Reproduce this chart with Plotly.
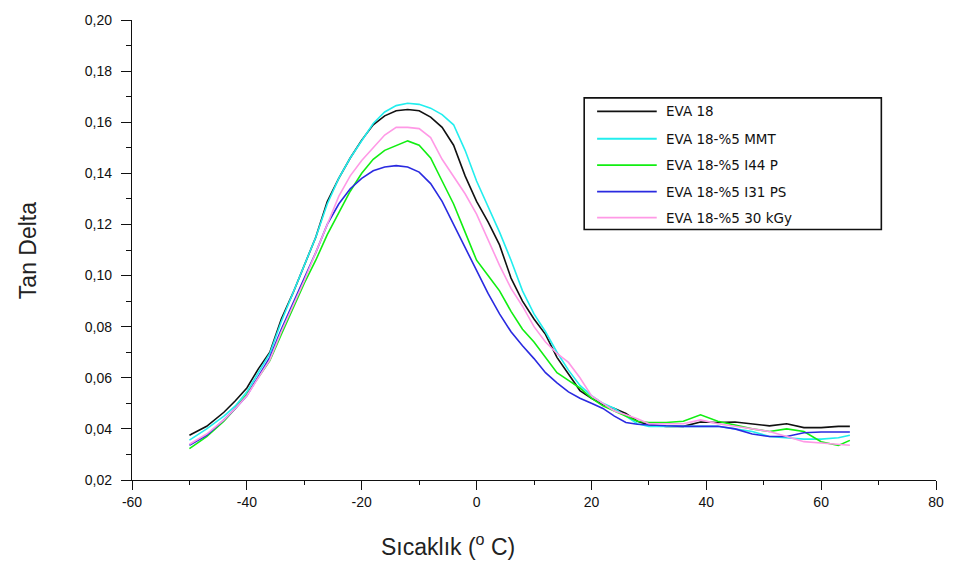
import plotly.graph_objects as go

# Temperature grid (°C) shared by every sample
temperature = [-50, -47, -44, -42, -40, -38, -36, -34, -32, -30, -28, -26, -24, -22,
               -20, -18, -16, -14, -12, -10, -8, -6, -4, -2, 0, 2, 4, 6, 8, 10, 12,
               14, 16, 18, 20, 22, 24, 26, 28, 30, 33, 36, 39, 42, 45, 48, 51, 54,
               57, 60, 63, 65]

eva18 = [0.0375, 0.041, 0.0465, 0.051, 0.056, 0.0635, 0.070, 0.083, 0.093, 0.104,
         0.115, 0.129, 0.138, 0.146, 0.153, 0.159, 0.1625, 0.1645, 0.165, 0.1645,
         0.162, 0.158, 0.151, 0.139, 0.129, 0.121, 0.112, 0.099, 0.090, 0.083,
         0.077, 0.068, 0.0615, 0.055, 0.052, 0.0495, 0.048, 0.046, 0.043, 0.0415,
         0.041, 0.041, 0.0427, 0.0425, 0.0427, 0.042, 0.0412, 0.042, 0.0405,
         0.0405, 0.041, 0.041]

eva18_mmt = [0.0356, 0.040, 0.045, 0.049, 0.0545, 0.062, 0.0695, 0.082, 0.093, 0.104,
             0.115, 0.128, 0.138, 0.146, 0.153, 0.1595, 0.164, 0.1665, 0.1674, 0.167,
             0.1655, 0.163, 0.159, 0.149, 0.137, 0.127, 0.117, 0.106, 0.094, 0.085,
             0.078, 0.070, 0.063, 0.057, 0.053, 0.050, 0.048, 0.045, 0.042, 0.041,
             0.041, 0.041, 0.041, 0.041, 0.040, 0.039, 0.037, 0.0365, 0.036, 0.036,
             0.0365, 0.0375]

eva18_i44p = [0.0323, 0.037, 0.043, 0.048, 0.0535, 0.060, 0.0667, 0.077, 0.087, 0.097,
              0.106, 0.116, 0.1245, 0.133, 0.140, 0.1455, 0.149, 0.151, 0.1527, 0.151,
              0.146, 0.137, 0.128, 0.117, 0.106, 0.100, 0.094, 0.086, 0.079, 0.074,
              0.068, 0.062, 0.059, 0.056, 0.052, 0.049, 0.047, 0.045, 0.043, 0.0425,
              0.0425, 0.043, 0.0455, 0.043, 0.0415, 0.040, 0.039, 0.040, 0.039, 0.035,
              0.0335, 0.0355]

eva18_i31ps = [0.0336, 0.0375, 0.0435, 0.048, 0.053, 0.0605, 0.068, 0.079, 0.089, 0.099,
               0.109, 0.120, 0.128, 0.134, 0.138, 0.141, 0.1425, 0.143, 0.1425, 0.1405,
               0.136, 0.129, 0.120, 0.111, 0.102, 0.093, 0.085, 0.078, 0.0725, 0.0675,
               0.062, 0.058, 0.0545, 0.052, 0.050, 0.048, 0.045, 0.0425, 0.0418, 0.0415,
               0.0412, 0.041, 0.041, 0.041, 0.040, 0.038, 0.037, 0.037, 0.0385, 0.0388,
               0.0388, 0.0388]

eva18_30kgy = [0.034, 0.038, 0.0435, 0.048, 0.053, 0.060, 0.067, 0.078, 0.088, 0.098,
               0.109, 0.120, 0.131, 0.139, 0.145, 0.150, 0.155, 0.158, 0.158, 0.1575,
               0.154, 0.1455, 0.139, 0.132, 0.124, 0.114, 0.104, 0.095, 0.088, 0.080,
               0.074, 0.0695, 0.066, 0.060, 0.053, 0.050, 0.047, 0.0455, 0.044, 0.042,
               0.042, 0.042, 0.0435, 0.042, 0.041, 0.040, 0.039, 0.037, 0.035, 0.0345,
               0.034, 0.0336]

series_names = ["EVA 18", "EVA 18-%5 MMT", "EVA 18-%5 I44 P",
                "EVA 18-%5 I31 PS", "EVA 18-%5 30 kGy"]
series_values = [eva18, eva18_mmt, eva18_i44p, eva18_i31ps, eva18_30kgy]
series_colors = ["#111111", "#22eeee", "#11ee11", "#2a2ae0", "#ff99e6"]

# Axis ticks (x labels use a plain hyphen for negatives)
x_tick_vals = [-60, -40, -20, 0, 20, 40, 60, 80]
x_tick_labels = ["-60", "-40", "-20", "0", "20", "40", "60", "80"]
y_tick_vals = [0.02, 0.04, 0.06, 0.08, 0.10, 0.12, 0.14, 0.16, 0.18, 0.20]
y_tick_labels = ["0,02", "0,04", "0,06", "0,08", "0,10", "0,12", "0,14", "0,16",
                 "0,18", "0,20"]

FONT = "Arial, Liberation Sans, sans-serif"

# Plot-area geometry in pixels (used to place the legend box and titles)
W, H = 956, 568
L, R, T, B = 132, 15, 19, 88
PW, PH = W - L - R, H - T - B


def px_x(p):
    return (p - L) / PW


def px_y(p):
    return (H - B - p) / PH


fig = go.Figure()
for name, vals, col in zip(series_names, series_values, series_colors):
    fig.add_trace(go.Scatter(
        x=temperature, y=vals, mode="lines", name=name,
        line=dict(color=col, width=1.6), showlegend=False,
    ))

# Boxed legend: line sample + label per series
shapes = [dict(type="rect", xref="paper", yref="paper",
               x0=px_x(587), x1=px_x(886), y0=px_y(229), y1=px_y(97),
               line=dict(color="#111", width=1.6), fillcolor="white", layer="above")]
annotations = []
row_y = [110.5, 138, 164.5, 191, 217]
for name, col, ry in zip(series_names, series_colors, row_y):
    shapes.append(dict(type="line", xref="paper", yref="paper",
                       x0=px_x(600), x1=px_x(660), y0=px_y(ry), y1=px_y(ry),
                       line=dict(color=col, width=1.8), layer="above"))
    annotations.append(dict(text=name, xref="paper", yref="paper",
                            x=px_x(667), y=px_y(ry), xanchor="left", yanchor="middle",
                            showarrow=False,
                            font=dict(family="DejaVu Sans, sans-serif", size=13.5,
                                      color="#111")))

annotations += [
    dict(text="Sıcaklık (<sup>o</sup> C)", xref="paper", yref="paper",
         x=px_x(450), y=px_y(545), xanchor="center", yanchor="middle",
         showarrow=False, font=dict(family=FONT, size=23, color="#222")),
    dict(text="Tan Delta", xref="paper", yref="paper",
         x=px_x(28), y=px_y(250), xanchor="center", yanchor="middle",
         textangle=-90, showarrow=False, font=dict(family=FONT, size=23, color="#222")),
]

axis_common = dict(
    showgrid=False, zeroline=False, showline=True, linecolor="#111",
    linewidth=1.4, ticks="outside", tickwidth=1.4, tickcolor="#111",
    mirror=False, tickmode="array",
    tickfont=dict(family=FONT, size=14, color="#111"),
)

fig.update_layout(
    width=W, height=H,
    margin=dict(l=L, r=R, t=T, b=B),
    paper_bgcolor="white", plot_bgcolor="white",
    showlegend=False,
    xaxis=dict(
        range=[-60, 80], tickvals=x_tick_vals, ticktext=x_tick_labels, ticklen=9,
        minor=dict(dtick=10, tick0=-60, ticklen=4, tickwidth=1.4, tickcolor="#111",
                   ticks="outside"),
        **axis_common,
    ),
    yaxis=dict(
        range=[0.02, 0.20], tickvals=y_tick_vals, ticktext=y_tick_labels, ticklen=10,
        ticklabelstandoff=6,
        minor=dict(dtick=0.01, tick0=0.02, ticklen=5, tickwidth=1.4, tickcolor="#111",
                   ticks="outside"),
        **axis_common,
    ),
    shapes=shapes,
    annotations=annotations,
)

fig.write_html("out.html")
